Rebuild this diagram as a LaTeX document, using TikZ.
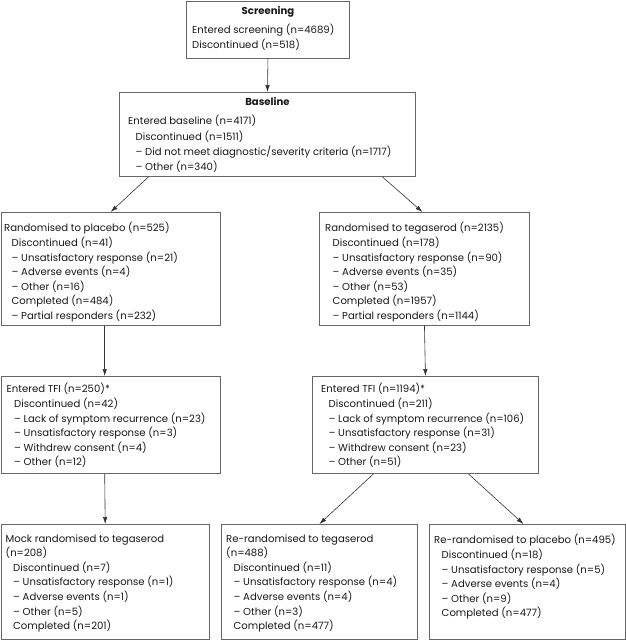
\documentclass[tikz,border=0pt]{standalone}
\usepackage{fontspec}
\setmainfont{Poppins}
\usetikzlibrary{arrows.meta,positioning}
\newcommand{\indt}{\hspace*{7.5pt}}
\tikzset{
  box/.style={draw=black!60, line width=0.9pt, anchor=north west, inner sep=0pt},
  txt/.style={anchor=north west, align=left, inner sep=0pt, text=black!90, font=\fontsize{10.1}{14.6}\selectfont},
  head/.style={anchor=north, inner sep=0pt, text=black!90, font=\bfseries\fontsize{10.1}{14.6}\selectfont},
  arr/.style={draw=black!80, line width=0.6pt, -{Latex[length=7pt,width=4.5pt]}}
}
\begin{document}
\begin{tikzpicture}[x=1pt,y=-1pt]
  \useasboundingbox (0,0) rectangle (626,640);
  % boxes
  \node[box, minimum width=163pt, minimum height=57pt] (scr) at (186,1) {};
  \node[box, minimum width=296pt, minimum height=84pt] (base) at (119,92) {};
  \node[box, minimum width=219.5pt, minimum height=113pt] (plac) at (0.5,212) {};
  \node[box, minimum width=210pt, minimum height=113pt] (teg) at (319,212) {};
  \node[box, minimum width=219.5pt, minimum height=97pt] (tfip) at (0.5,376) {};
  \node[box, minimum width=226pt, minimum height=97pt] (tfit) at (312,376) {};
  \node[box, minimum width=208.5pt, minimum height=115pt] (mock) at (0.5,524) {};
  \node[box, minimum width=196pt, minimum height=115pt] (rtg) at (221,524) {};
  \node[box, minimum width=196pt, minimum height=115pt] (rpl) at (429,524) {};
  % texts
  \node[head] (scrH) at ([yshift=-5.5pt]scr.north) {Screening};
  \node[txt] (scrT) at ([shift={(6pt,-23pt)}]scr.north west) {Entered screening (n=4689)\\Discontinued (n=518)};
  \node[head] (baseH) at ([yshift=-5.5pt]base.north) {Baseline};
  \node[txt, font=\fontsize{10.1}{15.3}\selectfont] (baseT) at ([shift={(9pt,-23.3pt)}]base.north west) {Entered baseline (n=4171)\\
    \indt Discontinued (n=1511)\\
    \indt – Did not meet diagnostic/severity criteria (n=1717)\\
    \indt – Other (n=340)};
  \node[txt] (placT) at ([shift={(3.5pt,-10.3pt)}]plac.north west) {Randomised to placebo (n=525)\\
    \indt Discontinued (n=41)\\
    \indt – Unsatisfactory response (n=21)\\
    \indt – Adverse events (n=4)\\
    \indt – Other (n=16)\\
    \indt Completed (n=484)\\
    \indt – Partial responders (n=232)};
  \node[txt] (tegT) at ([shift={(6pt,-10.3pt)}]teg.north west) {Randomised to tegaserod (n=2135)\\
    \indt Discontinued (n=178)\\
    \indt – Unsatisfactory response (n=90)\\
    \indt – Adverse events (n=35)\\
    \indt – Other (n=53)\\
    \indt Completed (n=1957)\\
    \indt – Partial responders (n=1144)};
  \node[txt] (tfipT) at ([shift={(6pt,-7.3pt)}]tfip.north west) {Entered TFI (n=250)*\\
    \indt Discontinued (n=42)\\
    \indt – Lack of symptom recurrence (n=23)\\
    \indt – Unsatisfactory response (n=3)\\
    \indt – Withdrew consent (n=4)\\
    \indt – Other (n=12)};
  \node[txt] (tfitT) at ([shift={(9pt,-7.3pt)}]tfit.north west) {Entered TFI (n=1194)*\\
    \indt Discontinued (n=211)\\
    \indt – Lack of symptom recurrence (n=106)\\
    \indt – Unsatisfactory response (n=31)\\
    \indt – Withdrew consent (n=23)\\
    \indt – Other (n=51)};
  \node[txt] (mockT) at ([shift={(5pt,-10.3pt)}]mock.north west) {Mock randomised to tegaserod\\
    (n=208)\\
    \indt Discontinued (n=7)\\
    \indt – Unsatisfactory response (n=1)\\
    \indt – Adverse events (n=1)\\
    \indt – Other (n=5)\\
    \indt Completed (n=201)};
  \node[txt] (rtgT) at ([shift={(5pt,-10.3pt)}]rtg.north west) {Re-randomised to tegaserod\\
    (n=488)\\
    \indt Discontinued (n=11)\\
    \indt – Unsatisfactory response (n=4)\\
    \indt – Adverse events (n=4)\\
    \indt – Other (n=3)\\
    \indt Completed (n=477)};
  \node[txt] (rplT) at ([shift={(5pt,-10.3pt)}]rpl.north west) {Re-randomised to placebo (n=495)\\
    \indt Discontinued (n=18)\\
    \indt – Unsatisfactory response (n=5)\\
    \indt – Adverse events (n=4)\\
    \indt – Other (n=9)\\
    \indt Completed (n=477)};
  % arrows
  \draw[arr] (scr.south) -- (base.north);
  \draw[arr] ([xshift=-119pt]base.south) -- (plac.north);
  \draw[arr] ([xshift=115pt]base.south) -- ([xshift=-2pt]teg.north);
  \draw[arr] ([xshift=-6pt]plac.south) -- ([xshift=-6pt]tfip.north);
  \draw[arr] (teg.south) -- (tfit.north);
  \draw[arr] ([xshift=-6pt]tfip.south) -- (mock.north);
  \draw[arr] ([xshift=-52pt]tfit.south) -- (rtg.north);
  \draw[arr] ([xshift=43pt]tfit.south) -- ([xshift=-4pt]rpl.north);
\end{tikzpicture}
\end{document}
